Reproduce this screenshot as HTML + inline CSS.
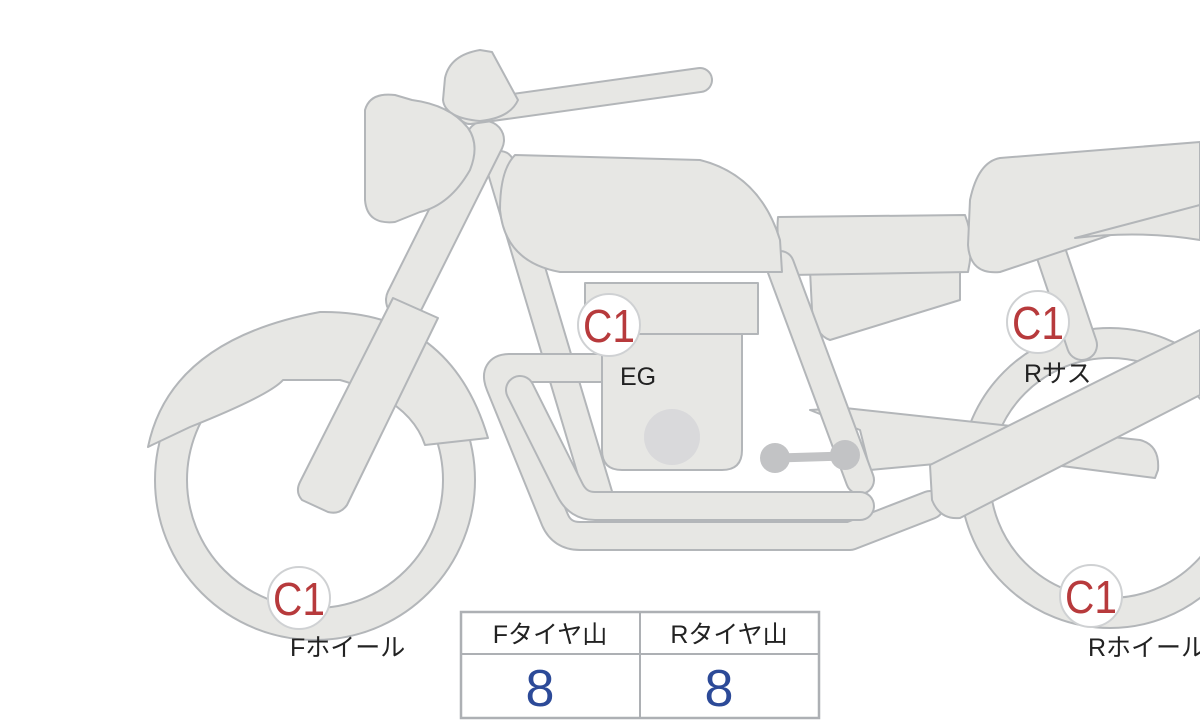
<!DOCTYPE html>
<html><head><meta charset="utf-8"><style>
html,body{margin:0;padding:0;background:#fff;}
svg{display:block}
.s{fill:#e7e7e4;stroke:#b3b6b9;stroke-width:2;stroke-linejoin:round}
.to{fill:none;stroke:#b3b6b9;stroke-linecap:round;stroke-linejoin:round}
.tf{fill:none;stroke:#e7e7e4;stroke-linecap:round;stroke-linejoin:round}
.c1{font-family:"Liberation Sans",sans-serif;font-size:46px;fill:#b73a3c}
.lb{font-family:"Liberation Sans","Noto Sans CJK JP",sans-serif;font-size:25px;fill:#222}
</style></head><body>
<svg width="1200" height="720" viewBox="0 0 1200 720" xmlns="http://www.w3.org/2000/svg">
<circle cx="1110" cy="478" r="150" class="s"/>
<circle cx="1110" cy="478" r="120" fill="#fff" stroke="#b3b6b9" stroke-width="2"/>
<path class="to" stroke-width="32" d="M1050 250 L1082 345"/><path class="tf" stroke-width="28" d="M1050 250 L1082 345"/>
<path class="s" d="M810 270 L960 268 L960 300 L830 340 Q815 335 812 310 Z"/>
<path class="s" d="M778 217 L965 215 Q975 240 968 272 L790 275 Q775 250 778 217 Z"/>
<path class="s" d="M1000 158 L1200 142 L1200 205 L1000 272 Q970 275 968 245 L970 200 Q978 162 1000 158 Z"/>
<path class="s" d="M1075 238 L1200 205 L1200 240 Q1140 230 1075 238 Z"/>
<path class="s" d="M810 410 L845 408 L1140 440 Q1160 445 1158 470 L1155 478 L1000 458 L870 470 L860 430 Z"/>
<path class="to" stroke-width="30" d="M500 165 L600 500"/><path class="tf" stroke-width="26" d="M500 165 L600 500"/>
<path class="to" stroke-width="30" d="M780 265 L860 480"/><path class="tf" stroke-width="26" d="M780 265 L860 480"/>
<path class="s" d="M515 155 L700 160 Q760 175 780 240 L782 272 L560 272 Q505 262 500 210 Q500 170 515 155 Z"/>
<path class="to" stroke-width="30" d="M600 368 L510 368 Q493 368 500 385 L555 520 Q562 536 580 536 L850 536 L930 505"/>
<path class="tf" stroke-width="26" d="M600 368 L510 368 Q493 368 500 385 L555 520 Q562 536 580 536 L850 536 L930 505"/>
<path class="to" stroke-width="30" d="M520 390 L570 490 Q578 506 595 506 L860 506"/>
<path class="tf" stroke-width="26" d="M520 390 L570 490 Q578 506 595 506 L860 506"/>
<path class="s" d="M602 330 L742 330 L742 450 Q742 470 722 470 L622 470 Q602 470 602 450 Z"/>
<rect x="585" y="283" width="173" height="51" class="s"/>
<circle cx="672" cy="437" r="28" fill="#d9d9db"/>
<path d="M778 458 L845 456" stroke="#c2c3c5" stroke-width="9"/>
<circle cx="775" cy="458" r="15" fill="#c2c3c5"/><circle cx="845" cy="455" r="15" fill="#c2c3c5"/>
<path class="s" d="M930 465 L1200 330 L1200 395 L960 518 Q940 520 932 500 Z"/>
<circle cx="315" cy="480" r="160" class="s"/>
<circle cx="315" cy="480" r="128" fill="#fff" stroke="#b3b6b9" stroke-width="2"/>
<path class="s" d="M148 447 Q170 340 320 312 Q450 310 488 438 L425 445 Q410 400 340 380 L283 380 Q270 395 190 427 L152 445 Z"/>
<path class="to" stroke-width="40" d="M485 140 L405 300"/><path class="tf" stroke-width="36" d="M485 140 L405 300"/>
<path class="s" d="M393 298 L438 318 L347 505 Q340 515 328 512 L302 500 Q295 492 300 482 Z"/>
<path class="to" stroke-width="26" d="M470 112 L700 80"/><path class="tf" stroke-width="22" d="M470 112 L700 80"/>
<path class="s" d="M445 78 Q450 55 480 50 L492 52 L518 100 Q510 118 480 121 Q445 118 443 100 Z"/>
<path class="s" d="M365 110 Q370 92 395 95 L412 100 Q450 105 468 128 Q480 145 470 170 Q450 205 420 212 L395 222 Q367 225 365 200 Z"/>
<circle cx="609" cy="325" r="31" fill="#fff" stroke="#cfd1d3" stroke-width="2"/><text x="609" y="342" text-anchor="middle" class="c1" textLength="52" lengthAdjust="spacingAndGlyphs">C1</text>
<text x="620" y="385" class="lb">EG</text>
<circle cx="1038" cy="322" r="31" fill="#fff" stroke="#cfd1d3" stroke-width="2"/><text x="1038" y="339" text-anchor="middle" class="c1" textLength="52" lengthAdjust="spacingAndGlyphs">C1</text>
<text x="1024" y="382" class="lb">Rサス</text>
<circle cx="299" cy="598" r="31" fill="#fff" stroke="#cfd1d3" stroke-width="2"/><text x="299" y="615" text-anchor="middle" class="c1" textLength="52" lengthAdjust="spacingAndGlyphs">C1</text>
<text x="290" y="656" class="lb">Fホイール</text>
<circle cx="1091" cy="596" r="31" fill="#fff" stroke="#cfd1d3" stroke-width="2"/><text x="1091" y="613" text-anchor="middle" class="c1" textLength="52" lengthAdjust="spacingAndGlyphs">C1</text>
<text x="1088" y="656" class="lb">Rホイール</text>
<rect x="461" y="612" width="358" height="106" fill="#fff" stroke="#adb0b4" stroke-width="2.5"/>
<line x1="461" y1="654" x2="819" y2="654" stroke="#adb0b4" stroke-width="2"/>
<line x1="640" y1="612" x2="640" y2="718" stroke="#adb0b4" stroke-width="2"/>
<text x="550" y="643" text-anchor="middle" class="lb">Fタイヤ山</text>
<text x="729" y="643" text-anchor="middle" class="lb">Rタイヤ山</text>
<text x="540" y="706" text-anchor="middle" font-family="Liberation Sans,sans-serif" font-size="52" fill="#2c4a98">8</text>
<text x="719" y="706" text-anchor="middle" font-family="Liberation Sans,sans-serif" font-size="52" fill="#2c4a98">8</text>
</svg>
</body></html>
